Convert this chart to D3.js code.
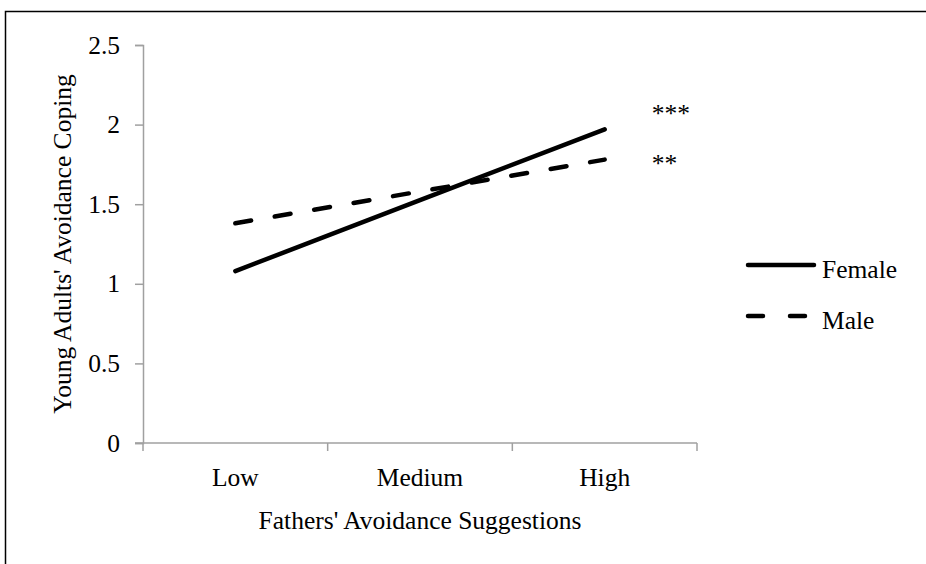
<!DOCTYPE html>
<html>
<head>
<meta charset="utf-8">
<script src="https://cdn.jsdelivr.net/npm/d3@7/dist/d3.min.js"></script>
<style>
  html, body { margin: 0; padding: 0; background: #fff; }
  svg { display: block; }
  text { font-family: "Liberation Serif", "Times New Roman", serif; fill: #000; }
</style>
</head>
<body>
<svg id="chart" width="926" height="564"></svg>
<script>
// Simple slopes: avoidance coping by level of fathers' avoidance suggestions
const categories = ["Low", "Medium", "High"];
const femaleValues = [1.08, 1.525, 1.97];
const maleValues = [1.38, 1.58, 1.78];
const yTicks = [0, 0.5, 1, 1.5, 2, 2.5];
const seriesNames = ["Female", "Male"];
const significance = ["***", "**"];

const svg = d3.select("#chart");
const fontSize = 25.5;

// outer frame (runs past the right and bottom edges)
svg.append("rect")
  .attr("x", 5.5).attr("y", 11.5)
  .attr("width", 1200).attr("height", 1200)
  .attr("fill", "none").attr("stroke", "#000").attr("stroke-width", 1.5);

const plot = { left: 143, right: 697, top: 45, bottom: 443 };

const x = d3.scaleBand().domain(categories).range([plot.left, plot.right]);
const y = d3.scaleLinear().domain([0, 2.5]).range([plot.bottom, plot.top]);

const axisColor = "#a0a0a0";

// y axis
const yAxis = svg.append("g")
  .attr("transform", `translate(${plot.left},0)`)
  .call(d3.axisLeft(y).tickValues(yTicks).tickSize(8).tickPadding(15)
    .tickFormat(d => String(d)));
yAxis.select(".domain").attr("stroke", axisColor).attr("stroke-width", 1.5);
yAxis.selectAll(".tick line").attr("stroke", axisColor).attr("stroke-width", 1.5);
yAxis.selectAll(".tick text")
  .attr("font-family", "Liberation Serif, Times New Roman, serif")
  .attr("font-size", fontSize).attr("fill", "#000");

// x axis: ticks sit on band boundaries, labels at band centres
const xAxisG = svg.append("g").attr("transform", `translate(0,${plot.bottom})`);
xAxisG.append("line")
  .attr("x1", plot.left - 8).attr("x2", plot.right)
  .attr("stroke", axisColor).attr("stroke-width", 1.5);
const boundaries = categories.map(c => x(c)).concat([x(categories[categories.length - 1]) + x.bandwidth()]);
xAxisG.selectAll("line.tick")
  .data(boundaries)
  .join("line")
  .attr("class", "tick")
  .attr("x1", d => d).attr("x2", d => d)
  .attr("y1", 0).attr("y2", 8)
  .attr("stroke", axisColor).attr("stroke-width", 1.5);
xAxisG.selectAll("text.cat")
  .data(categories)
  .join("text")
  .attr("class", "cat")
  .attr("x", d => x(d) + x.bandwidth() / 2)
  .attr("y", 43)
  .attr("text-anchor", "middle")
  .attr("font-size", fontSize)
  .text(d => d);

// axis titles
svg.append("text")
  .attr("x", (plot.left + plot.right) / 2)
  .attr("y", 529)
  .attr("text-anchor", "middle")
  .attr("font-size", fontSize)
  .text("Fathers' Avoidance Suggestions");

svg.append("text")
  .attr("transform", `translate(71,${(plot.top + plot.bottom) / 2}) rotate(-90)`)
  .attr("text-anchor", "middle")
  .attr("font-size", fontSize)
  .text("Young Adults' Avoidance Coping");

// series lines
const cx = c => x(c) + x.bandwidth() / 2;
const line = d3.line().x((d, i) => cx(categories[i])).y(d => y(d));
const series = [
  { name: seriesNames[0], values: femaleValues, dash: null, legendDash: null, sig: significance[0], sigDy: -7 },
  { name: seriesNames[1], values: maleValues, dash: "16,24", legendDash: "15,27", sig: significance[1], sigDy: 12 }
];

svg.selectAll("path.series")
  .data(series)
  .join("path")
  .attr("class", "series")
  .attr("d", d => line(d.values))
  .attr("fill", "none")
  .attr("stroke", "#000")
  .attr("stroke-width", 4.5)
  .attr("stroke-linecap", "round")
  .attr("stroke-dasharray", d => d.dash);

// significance markers to the right of the line ends
const lastCat = categories[categories.length - 1];
svg.selectAll("text.sig")
  .data(series)
  .join("text")
  .attr("class", "sig")
  .attr("x", cx(lastCat) + 47)
  .attr("y", d => y(d.values[d.values.length - 1]) + d.sigDy)
  .attr("font-size", fontSize)
  .text(d => d.sig);

// legend
const legend = svg.append("g").attr("transform", "translate(748,265)");
const item = legend.selectAll("g")
  .data(series)
  .join("g")
  .attr("transform", (d, i) => `translate(0,${i * 51})`);
item.append("line")
  .attr("x1", 0).attr("x2", 66)
  .attr("stroke", "#000").attr("stroke-width", 4.5)
  .attr("stroke-linecap", "round")
  .attr("stroke-dasharray", d => d.legendDash);
item.append("text")
  .attr("x", 74).attr("y", 12.5)
  .attr("font-size", fontSize)
  .text(d => d.name);
</script>
</body>
</html>
